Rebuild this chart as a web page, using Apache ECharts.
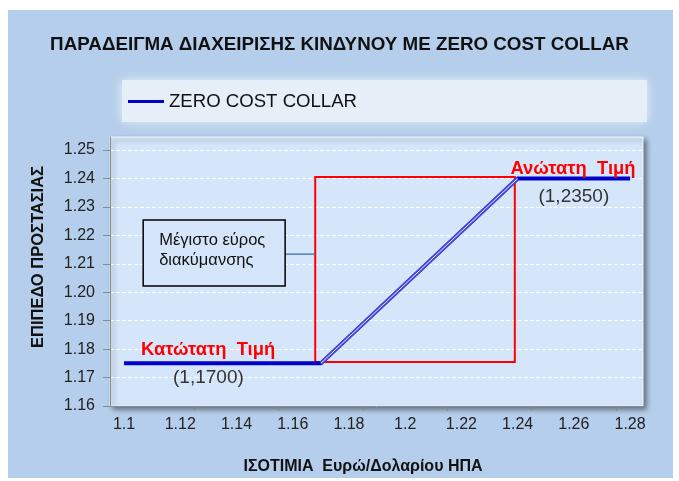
<!DOCTYPE html>
<html>
<head>
<meta charset="utf-8">
<script src="https://cdn.jsdelivr.net/npm/echarts@6/dist/echarts.min.js"></script>
<style>
  html, body { margin: 0; padding: 0; background: #ffffff; }
  #chart { width: 679px; height: 481px; }
</style>
</head>
<body>
<div id="chart"></div>
<script>
const titleText = 'ΠΑΡΑΔΕΙΓΜΑ ΔΙΑΧΕΙΡΙΣΗΣ ΚΙΝΔΥΝΟΥ ΜΕ ZERO COST COLLAR'
const seriesName = 'ZERO COST COLLAR'
const xName = 'ΙΣΟΤΙΜΙΑ  Ευρώ/Δολαρίου ΗΠΑ'
const yName = 'ΕΠΙΠΕΔΟ ΠΡΟΣΤΑΣΙΑΣ'

// floor -> ramp -> cap
const collarX = [1.1, 1.17, 1.24, 1.28]
const collarY = [1.175, 1.175, 1.24, 1.24]
const rampX = [1.17, 1.24]
const rampY = [1.175, 1.24]

// red "range" box corners
const rangeBox = [[1.168, 1.1755], [1.239, 1.2405]]

const xLabelValues = [1.1, 1.12, 1.14, 1.16, 1.18, 1.2, 1.22, 1.24, 1.26, 1.28]
const xTickValues = [1.125, 1.155, 1.185, 1.215, 1.245, 1.275]
const yLabelValues = [1.16, 1.17, 1.18, 1.19, 1.2, 1.21, 1.22, 1.23, 1.24, 1.25]

const floorLabel = 'Κατώτατη  Τιμή'
const floorValue = '(1,1700)'
const capLabel = 'Ανώτατη  Τιμή'
const capValue = '(1,2350)'
const noteLines = ['Μέγιστο εύρος', 'διακύμανσης']

const font = '"Liberation Sans", Arial, sans-serif'
const axisGray = '#8a8a8a'
const lineBlue = '#0000c8'

const chart = echarts.init(document.getElementById('chart'))

chart.setOption({
  animation: false,
  backgroundColor: '#ffffff',
  title: {
    text: titleText,
    left: 'center',
    top: 35,
    padding: 0,
    textStyle: { fontFamily: font, fontSize: 18.8, fontWeight: 'bold', color: '#111' },
  },
  legend: {
    left: 128,
    top: 92,
    padding: 0,
    icon: 'rect',
    itemWidth: 36,
    itemHeight: 3,
    data: [seriesName],
    textStyle: { fontFamily: font, fontSize: 18.6, color: '#111' },
  },
  grid: {
    left: 110,
    right: 36,
    top: 137,
    bottom: 75,
    show: true,
    backgroundColor: '#d6e6fa',
    borderColor: '#f4f8fe',
    borderWidth: 1,
    shadowColor: 'rgba(0, 0, 0, 0.45)',
    shadowBlur: 5,
    shadowOffsetX: 3,
    shadowOffsetY: 3,
  },
  xAxis: {
    type: 'value',
    min: 1.095,
    max: 1.2846,
    splitLine: { show: false },
    axisLine: { show: true, onZero: false, lineStyle: { color: axisGray } },
    axisTick: { show: true, customValues: xTickValues, length: 5, lineStyle: { color: axisGray } },
    axisLabel: {
      customValues: xLabelValues,
      formatter: (v) => String(+v.toFixed(2)),
      fontFamily: font,
      fontSize: 16,
      color: '#222',
      margin: 11,
    },
  },
  yAxis: {
    type: 'value',
    min: 1.16,
    max: 1.2546,
    axisLine: { show: true, lineStyle: { color: axisGray } },
    axisTick: { show: true, customValues: yLabelValues, length: 7, lineStyle: { color: axisGray } },
    axisLabel: {
      customValues: yLabelValues,
      formatter: (v) => v.toFixed(2),
      fontFamily: font,
      fontSize: 16,
      color: '#222',
      margin: 15,
    },
    splitLine: { show: true, lineStyle: { color: '#ffffff', type: 'dashed', width: 1 } },
  },
  series: [
    {
      name: seriesName,
      type: 'line',
      showSymbol: false,
      color: lineBlue,
      data: collarX.map((x, i) => [x, collarY[i]]),
      lineStyle: { color: lineBlue, width: 4 },
      z: 3,
      markArea: {
        silent: true,
        itemStyle: { color: 'rgba(0,0,0,0)', borderColor: '#ff0000', borderWidth: 2 },
        data: [[{ coord: rangeBox[0] }, { coord: rangeBox[1] }]],
      },
    },
    {
      name: 'ramp',
      type: 'line',
      showSymbol: false,
      silent: true,
      data: rampX.map((x, i) => [x, rampY[i]]),
      lineStyle: { color: '#4848d8', width: 4 },
      z: 4,
    },
    {
      name: 'ramp-inner',
      type: 'line',
      showSymbol: false,
      silent: true,
      data: rampX.map((x, i) => [x, rampY[i]]),
      lineStyle: { color: '#dfe5fb', width: 1 },
      z: 5,
    },
  ],
})

// annotations, anchored in data coordinates
const px = (x, y) => chart.convertToPixel({ gridIndex: 0 }, [x, y])
const text = (id, str, pos, size, weight, fill, align) => ({
  type: 'text',
  id,
  x: pos[0],
  y: pos[1],
  z: 20,
  style: {
    text: str,
    font: `${weight} ${size}px ${font}`,
    fill,
    align: align || 'center',
    verticalAlign: 'middle',
  },
})

const noteTL = px(1.1068, 1.2254)
const noteBR = px(1.1573, 1.2022)
const linkA = px(1.1573, 1.2134)
const linkB = px(rangeBox[0][0], 1.2134)

chart.setOption({
  graphic: [
    {
      type: 'rect',
      id: 'outer-bg',
      z: -100,
      shape: { x: 8, y: 10, width: 665, height: 468 },
      style: { fill: '#b5ceeb' },
    },
    {
      type: 'rect',
      id: 'legend-bg',
      z: -90,
      shape: { x: 122, y: 80, width: 525, height: 42 },
      style: { fill: '#e6eef8', shadowColor: 'rgba(255,255,255,0.7)', shadowBlur: 10 },
    },
    text('x-name', xName, [363, 467], 16, 'bold', '#111'),
    {
      ...text('y-name', yName, [38, 257], 16.5, 'bold', '#111'),
      rotation: Math.PI / 2,
    },
    text('floor-label', floorLabel, px(1.1299, 1.1797), 18.4, 'bold', '#ff0000'),
    text('floor-value', floorValue, px(1.130, 1.1698), 19, 'normal', '#333'),
    text('cap-label', capLabel, px(1.2597, 1.2433), 18.4, 'bold', '#ff0000'),
    text('cap-value', capValue, px(1.260, 1.2335), 19, 'normal', '#333'),
    {
      type: 'line',
      id: 'note-link',
      z: 20,
      shape: { x1: linkA[0], y1: linkA[1], x2: linkB[0], y2: linkB[1] },
      style: { stroke: '#4a7ebb', lineWidth: 1.5 },
    },
    {
      type: 'rect',
      id: 'note-box',
      z: 20,
      shape: { x: noteTL[0], y: noteTL[1], width: noteBR[0] - noteTL[0], height: noteBR[1] - noteTL[1] },
      style: { fill: '#d6e6fa', stroke: '#000', lineWidth: 1.5 },
    },
    text('note-1', noteLines[0], [noteTL[0] + 16, noteTL[1] + 20], 16.5, 'normal', '#111', 'left'),
    text('note-2', noteLines[1], [noteTL[0] + 16, noteTL[1] + 40], 16.5, 'normal', '#111', 'left'),
  ],
})
</script>
</body>
</html>
